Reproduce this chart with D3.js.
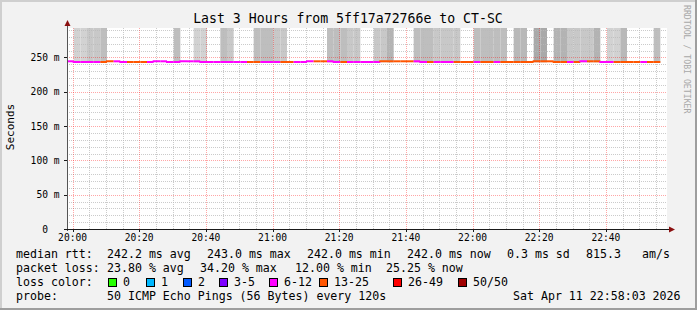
<!DOCTYPE html>
<html lang="en">
<head>
  <meta charset="UTF-8">
  <title>Last 3 Hours from 5ff17a72766e to CT-SC</title>
  <script src="https://d3js.org/d3.v7.min.js"></script>
  <style>
    html, body { margin: 0; padding: 0; background: #f2f2f2; }
    svg text { font-family: "DejaVu Sans Mono", monospace; fill: #000; }
  </style>
</head>
<body>
  <div id="chart"></div>

  <script>
    // --- data (one value per 120 s step) ---
    const startTime = new Date(2026, 3, 11, 19, 58, 20);
    const stepMinutes = 2;

    // median rtt in ms
    const medianRtt = [
      243, 242, 242, 242, 242, 242, 243, 243, 242, 242,
      242, 242, 242, 243, 243, 242, 242, 243, 243, 243,
      242, 242, 242, 242, 242, 242, 242, 242, 242, 242,
      242, 242, 242, 242, 242, 242, 243, 243, 243, 243,
      242, 242, 242, 242, 242, 242, 242, 243, 243, 243,
      243, 243, 243, 242, 242, 242, 242, 242, 242, 242,
      242, 242, 242, 242, 242, 242, 242, 242, 242, 242,
      243, 243, 243, 242, 242, 242, 242, 243, 243, 243,
      242, 242, 242, 242, 242, 242, 242, 242, 242
    ];

    // lost pings out of 50
    const lostPings = [
      11, 11, 11, 11, 11, 13, 13, 11, 11, 13,
      13, 13, 11, 11, 11, 11, 11, 11, 11, 11,
      11, 11, 11, 11, 11, 11, 11, 13, 13, 11,
      11, 11, 13, 13, 11, 11, 11, 13, 13, 11,
      11, 13, 11, 11, 11, 11, 11, 13, 13, 13,
      13, 13, 11, 11, 13, 11, 11, 11, 13, 13,
      13, 11, 13, 13, 11, 13, 13, 13, 13, 13,
      13, 13, 13, 13, 13, 11, 13, 11, 13, 13,
      11, 11, 13, 13, 13, 13, 11, 13, 13
    ];

    // smoke density (0 = no smoke)
    const smokeDensity = [
      0, 1, 1, 2, 2, 3, 0, 0, 0, 0,
      0, 0, 0, 0, 0, 0, 3, 0, 0, 1,
      1, 0, 0, 3, 2, 0, 0, 0, 3, 3,
      3, 2, 2, 0, 0, 0, 0, 0, 0, 3,
      3, 3, 2, 2, 0, 0, 2, 2, 4, 0,
      0, 0, 3, 3, 3, 2, 2, 2, 2, 0,
      0, 3, 3, 3, 3, 3, 0, 3.5, 3.5, 0,
      5, 5, 0, 4, 4, 2, 2, 2, 2, 4,
      0, 1, 1, 3.5, 0, 0, 0, 0, 3
    ];

    const yTicks = [0, 50, 100, 150, 200, 250];
    const lossLegend = [
      { label: "0", color: "#26ff00" },
      { label: "1", color: "#00b8ff" },
      { label: "2", color: "#0059ff" },
      { label: "3-5", color: "#7e00ff" },
      { label: "6-12", color: "#ff00ff" },
      { label: "13-25", color: "#ff5500" },
      { label: "26-49", color: "#ff0000" },
      { label: "50/50", color: "#a00000" }
    ];
    const lossBreaks = [1, 2, 3, 6, 13, 26, 50];

    const width = 697, height = 310;
    const plotLeft = 67, plotRight = 667, plotTop = 28, plotBottom = 229;

    const svg = d3.select("#chart").append("svg")
      .attr("width", width)
      .attr("height", height);

    // frame
    svg.append("rect").attr("width", width).attr("height", height).attr("fill", "#f2f2f2");
    svg.append("path").attr("d", `M0,${height} V0 H${width}`)
      .attr("stroke", "#cfcfcf").attr("stroke-width", 4).attr("fill", "none");
    svg.append("path").attr("d", `M0,${height} H${width} V0`)
      .attr("stroke", "#9e9e9e").attr("stroke-width", 4).attr("fill", "none");

    const endTime = d3.timeMinute.offset(startTime, 180);
    const x = d3.scaleTime().domain([startTime, endTime]).range([plotLeft, plotRight]);
    const y = d3.scaleLinear().domain([0, 293]).range([plotBottom, plotTop]);
    const smokeColor = d3.scaleLinear().domain([1, 5]).range(["#d2d2d2", "#a9a9a9"]);
    const lossColor = d3.scaleThreshold().domain(lossBreaks).range(lossLegend.map(d => d.color));

    const steps = medianRtt.map((v, i) => ({
      t0: d3.timeMinute.offset(startTime, i * stepMinutes),
      t1: d3.timeMinute.offset(startTime, (i + 1) * stepMinutes),
      rtt: v,
      lost: lostPings[i],
      smoke: smokeDensity[i],
      prev: i > 0 ? medianRtt[i - 1] : v
    }));

    // canvas
    svg.append("rect")
      .attr("x", plotLeft).attr("y", plotTop)
      .attr("width", plotRight - plotLeft).attr("height", plotBottom - plotTop)
      .attr("fill", "#fff");

    // smoke
    svg.append("g").selectAll("rect")
      .data(steps.filter(d => d.smoke > 0))
      .enter().append("rect")
      .attr("x", d => x(d.t0))
      .attr("width", d => x(d.t1) - x(d.t0))
      .attr("y", plotTop)
      .attr("height", d => y(d.rtt) - plotTop)
      .attr("fill", d => smokeColor(d.smoke));

    // grid
    const px = v => Math.round(v) + 0.5;
    const grid = svg.append("g");
    const minorY = d3.range(10, 293, 10).filter(v => v % 50 !== 0);
    const minorX = x.ticks(d3.timeMinute.every(5)).filter(t => t.getMinutes() % 20 !== 0);
    const majorX = x.ticks(d3.timeMinute.every(20));

    grid.selectAll(".minor-y").data(minorY).enter().append("line")
      .attr("x1", plotLeft).attr("x2", plotRight)
      .attr("y1", d => px(y(d))).attr("y2", d => px(y(d)))
      .attr("stroke", "#bababa").attr("stroke-opacity", 0.75).attr("stroke-dasharray", "1,1");
    grid.selectAll(".minor-x").data(minorX).enter().append("line")
      .attr("x1", d => px(x(d))).attr("x2", d => px(x(d)))
      .attr("y1", plotTop).attr("y2", plotBottom)
      .attr("stroke", "#bababa").attr("stroke-opacity", 0.75).attr("stroke-dasharray", "1,1");
    grid.selectAll(".major-y").data(yTicks.filter(v => v > 0)).enter().append("line")
      .attr("x1", plotLeft).attr("x2", plotRight)
      .attr("y1", d => px(y(d))).attr("y2", d => px(y(d)))
      .attr("stroke", "#ff0000").attr("stroke-opacity", 0.35).attr("stroke-dasharray", "1,1");
    grid.selectAll(".major-x").data(majorX).enter().append("line")
      .attr("x1", d => px(x(d))).attr("x2", d => px(x(d)))
      .attr("y1", plotTop).attr("y2", plotBottom)
      .attr("stroke", "#ff0000").attr("stroke-opacity", 0.35).attr("stroke-dasharray", "1,1");

    // median line, coloured by loss
    svg.append("g").selectAll("path")
      .data(steps)
      .enter().append("path")
      .attr("d", d => `M${x(d.t0)},${y(d.prev) - 1} V${y(d.rtt) - 1} H${x(d.t1)}`)
      .attr("fill", "none")
      .attr("stroke-width", 2)
      .attr("stroke", d => lossColor(d.lost));

    // axes
    const axisColor = "#1a1a1a";
    svg.append("line").attr("x1", plotLeft + 0.5).attr("x2", plotLeft + 0.5)
      .attr("y1", plotBottom + 2).attr("y2", plotTop - 3).attr("stroke", "#555");
    svg.append("line").attr("x1", plotLeft - 2).attr("x2", plotRight + 4)
      .attr("y1", plotBottom + 0.5).attr("y2", plotBottom + 0.5).attr("stroke", axisColor);
    svg.append("path").attr("d", `M${plotLeft + 0.5},${plotTop - 8} l-3,6 h6 z`).attr("fill", "#8b1010");
    svg.append("path").attr("d", `M${plotRight + 8},${plotBottom + 0.5} l-6,-3 v6 z`).attr("fill", "#8b1010");

    svg.append("g").selectAll("line").data(yTicks).enter().append("line")
      .attr("x1", plotLeft - 3).attr("x2", plotLeft)
      .attr("y1", d => px(y(d))).attr("y2", d => px(y(d)))
      .attr("stroke", axisColor);
    svg.append("g").selectAll("line").data(majorX).enter().append("line")
      .attr("x1", d => px(x(d))).attr("x2", d => px(x(d)))
      .attr("y1", plotBottom).attr("y2", plotBottom + 3)
      .attr("stroke", axisColor);

    svg.append("g").selectAll("text").data(yTicks).enter().append("text")
      .attr("x", d => d === 0 ? 48 : 59.5)
      .attr("y", d => y(d) + 3.5)
      .attr("text-anchor", "end")
      .style("font-size", "9.6px")
      .text(d => d === 0 ? "0" : d + " m");

    svg.append("g").selectAll("text").data(majorX).enter().append("text")
      .attr("x", d => x(d))
      .attr("y", 241)
      .attr("text-anchor", "middle")
      .style("font-size", "9.6px")
      .text(d => d3.timeFormat("%H:%M")(d));

    // titles
    svg.append("text")
      .attr("x", 348).attr("y", 23)
      .attr("text-anchor", "middle")
      .style("font-size", "13.2px")
      .text("Last 3 Hours from 5ff17a72766e to CT-SC");

    svg.append("text")
      .attr("transform", "translate(14,127) rotate(-90)")
      .attr("text-anchor", "middle")
      .style("font-size", "11px")
      .text("Seconds");

    svg.append("text")
      .attr("transform", "translate(684,5) rotate(90)")
      .style("font-size", "8.2px")
      .style("fill", "#a8a8a8")
      .text("RRDTOOL / TOBI OETIKER");

    // legend
    const legendFont = "11.6px";
    const legendRows = [
      { y: 258, items: [[16, "median rtt:"], [107, "242.2 ms avg"], [207, "243.0 ms max"], [307, "242.0 ms min"],
                        [407, "242.0 ms now"], [507, "0.3 ms sd"], [586, "815.3"], [642, "am/s"]] },
      { y: 272, items: [[16, "packet loss:"], [107, "23.80 % avg"], [200, "34.20 % max"], [295, "12.00 % min"],
                        [386, "25.25 % now"]] },
      { y: 286, items: [[16, "loss color:"]] },
      { y: 300, items: [[16, "probe:"], [107, "50 ICMP Echo Pings (56 Bytes) every 120s"], [513, "Sat Apr 11 22:58:03 2026"]] }
    ];
    legendRows.forEach(row => {
      svg.append("g").selectAll("text").data(row.items).enter().append("text")
        .attr("x", d => d[0]).attr("y", row.y)
        .style("font-size", legendFont)
        .text(d => d[1]);
    });

    const boxX = [108, 146, 183, 219, 269, 319, 393, 458];
    const lg = svg.append("g").selectAll("g").data(lossLegend).enter().append("g")
      .attr("transform", (d, i) => `translate(${boxX[i]},278)`);
    lg.append("rect")
      .attr("x", 0.5).attr("y", 0.5).attr("width", 8).attr("height", 8)
      .attr("fill", d => d.color).attr("stroke", "#000");
    lg.append("text")
      .attr("x", 15).attr("y", 8)
      .style("font-size", legendFont)
      .text(d => d.label);
  </script>
</body>
</html>
